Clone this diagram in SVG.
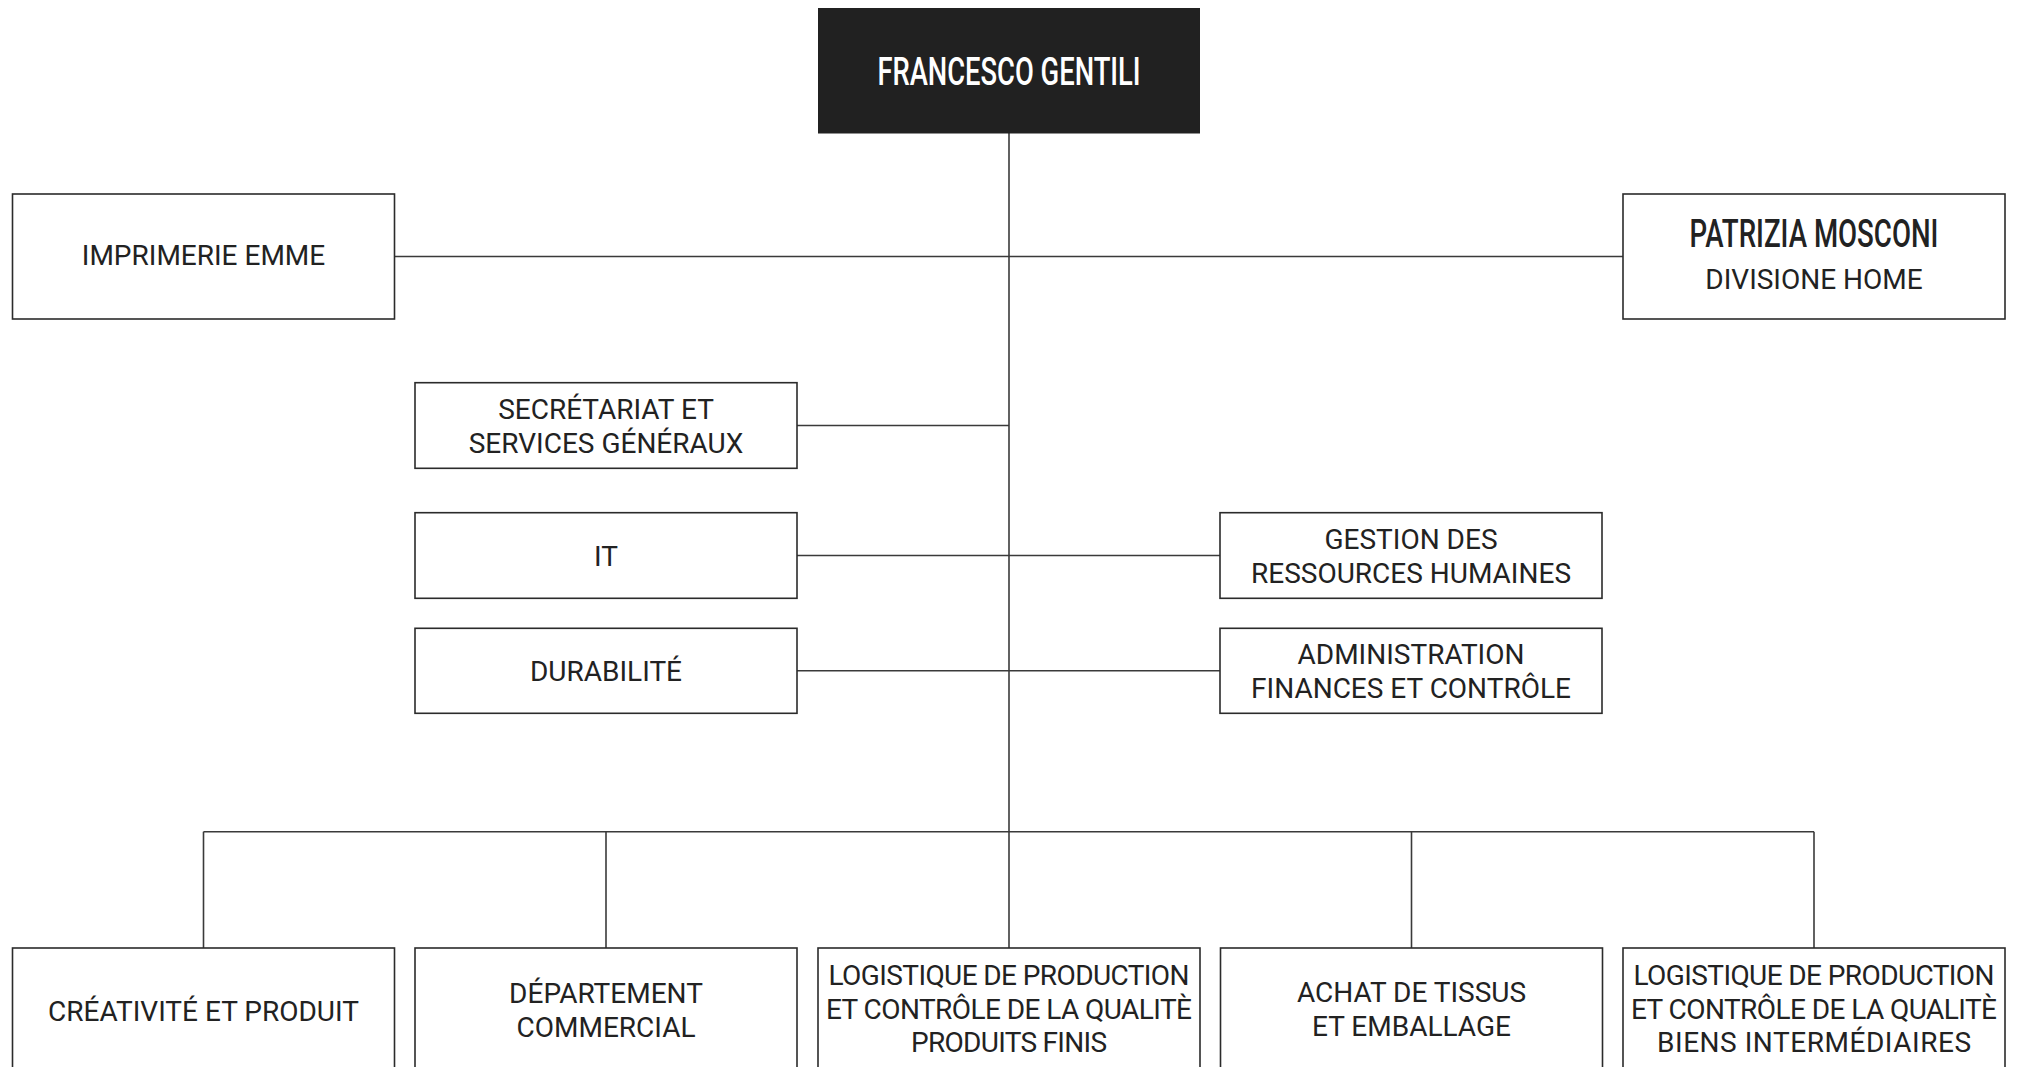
<svg xmlns="http://www.w3.org/2000/svg" width="2018" height="1067" viewBox="0 0 2018 1067">
<style>
.box{fill:#ffffff;stroke:#2b2b2b;stroke-width:1.6}
.dark{fill:#212121}
.t{font-family:Roboto,"Liberation Sans",sans-serif;font-size:28px;fill:#222222;text-anchor:middle}
.h{font-family:Roboto,"Liberation Sans",sans-serif;font-size:38px;font-weight:500;text-anchor:middle}
.c{fill:none;stroke:#3a3a3a;stroke-width:1.6}
</style>
<rect width="2018" height="1067" fill="#ffffff"/>
<g id="connectors">
<path class="c" d="M1009 133 V948"/>
<path class="c" d="M394.5 256.5 H1623"/>
<path class="c" d="M797 425.5 H1009"/>
<path class="c" d="M797 555.5 H1220"/>
<path class="c" d="M797 670.8 H1220"/>
<path class="c" d="M203.5 831.7 H1814"/>
<path class="c" d="M203.5 831.7 V948"/>
<path class="c" d="M606 831.7 V948"/>
<path class="c" d="M1411.5 831.7 V948"/>
<path class="c" d="M1814 831.7 V948"/>
</g>
<g id="n-gentili">
<rect class="dark" x="818" y="8" width="382" height="125.5"/>
<text class="h" transform="translate(1009 85) scale(0.8 1)" x="0" y="0" fill="#ffffff" textLength="329" lengthAdjust="spacingAndGlyphs">FRANCESCO GENTILI</text>
</g>
<g id="n-imprimerie">
<rect class="box" x="12.5" y="194" width="382" height="125"/>
<text class="t" x="203.5" y="265">IMPRIMERIE EMME</text>
</g>
<g id="n-mosconi">
<rect class="box" x="1623" y="194" width="382" height="125"/>
<text class="h" transform="translate(1814 247.3) scale(0.8 1)" x="0" y="0" fill="#222222" textLength="311" lengthAdjust="spacingAndGlyphs">PATRIZIA MOSCONI</text>
<text class="t" x="1814" y="289.3">DIVISIONE HOME</text>
</g>
<g id="n-secretariat">
<rect class="box" x="415" y="382.7" width="382" height="85.6"/>
<text class="t" x="606" y="419">SECRÉTARIAT ET</text>
<text class="t" x="606" y="453">SERVICES GÉNÉRAUX</text>
</g>
<g id="n-it">
<rect class="box" x="415" y="512.7" width="382" height="85.6"/>
<text class="t" x="606" y="565.5">IT</text>
</g>
<g id="n-durabilite">
<rect class="box" x="415" y="628.3" width="382" height="85"/>
<text class="t" x="606" y="680.8">DURABILITÉ</text>
</g>
<g id="n-rh">
<rect class="box" x="1220" y="512.7" width="382" height="85.6"/>
<text class="t" x="1411" y="549">GESTION DES</text>
<text class="t" x="1411" y="583">RESSOURCES HUMAINES</text>
</g>
<g id="n-admin">
<rect class="box" x="1220" y="628.3" width="382" height="85"/>
<text class="t" x="1411" y="664">ADMINISTRATION</text>
<text class="t" x="1411" y="698">FINANCES ET CONTRÔLE</text>
</g>
<g id="n-creativite">
<rect class="box" x="12.5" y="948" width="382" height="126"/>
<text class="t" x="203.5" y="1020.7">CRÉATIVITÉ ET PRODUIT</text>
</g>
<g id="n-commercial">
<rect class="box" x="415" y="948" width="382" height="126"/>
<text class="t" x="606" y="1002.7">DÉPARTEMENT</text>
<text class="t" x="606" y="1036.7">COMMERCIAL</text>
</g>
<g id="n-logistique-pf">
<rect class="box" x="818" y="948" width="382" height="126"/>
<text class="t" x="1009" y="985" textLength="361" lengthAdjust="spacing">LOGISTIQUE DE PRODUCTION</text>
<text class="t" x="1009" y="1018.5" textLength="366" lengthAdjust="spacing">ET CONTRÔLE DE LA QUALITÈ</text>
<text class="t" x="1009" y="1052" textLength="196" lengthAdjust="spacing">PRODUITS FINIS</text>
</g>
<g id="n-achat">
<rect class="box" x="1220.5" y="948" width="382" height="126"/>
<text class="t" x="1411.5" y="1002">ACHAT DE TISSUS</text>
<text class="t" x="1411.5" y="1036">ET EMBALLAGE</text>
</g>
<g id="n-logistique-bi">
<rect class="box" x="1623" y="948" width="382" height="126"/>
<text class="t" x="1814" y="985" textLength="361" lengthAdjust="spacing">LOGISTIQUE DE PRODUCTION</text>
<text class="t" x="1814" y="1018.5" textLength="366" lengthAdjust="spacing">ET CONTRÔLE DE LA QUALITÈ</text>
<text class="t" x="1814" y="1052" textLength="314" lengthAdjust="spacing">BIENS INTERMÉDIAIRES</text>
</g>
</svg>
